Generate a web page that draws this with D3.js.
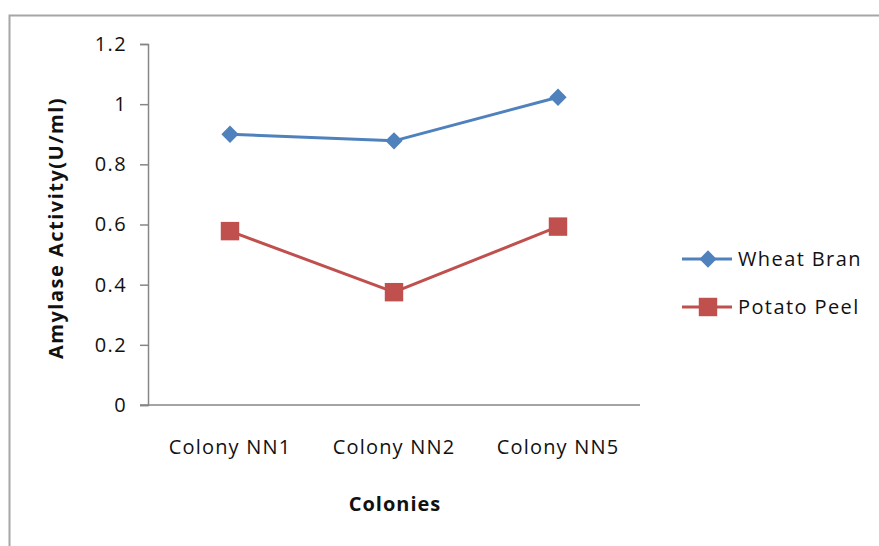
<!DOCTYPE html>
<html>
<head>
<meta charset="utf-8">
<script src="https://cdn.jsdelivr.net/npm/d3@7/dist/d3.min.js"></script>
<style>
  body { margin: 0; background: #fff; }
  svg { display: block; font-family: "Open Sans", Lato, sans-serif; }
</style>
</head>
<body>
<svg id="chart" width="879" height="546"></svg>
<script>
// Amylase activity per colony for two substrates
const colonies = ["Colony NN1", "Colony NN2", "Colony NN5"];
const wheatBran = [0.90, 0.878, 1.023];
const potatoPeel = [0.578, 0.375, 0.593];
const yTicks = [0, 0.2, 0.4, 0.6, 0.8, 1, 1.2];
const seriesNames = ["Wheat Bran", "Potato Peel"];

const series = [
  { name: seriesNames[0], values: wheatBran, color: "#4F81BD", marker: "diamond" },
  { name: seriesNames[1], values: potatoPeel, color: "#C0504D", marker: "square" }
];

const svg = d3.select("#chart");
const W = 879, H = 546;
const FONT = "'Open Sans', Lato, sans-serif";
const TEXT = "#111";

// outer frame (right and bottom sides fall outside the view)
svg.append("rect")
  .attr("x", 9.5).attr("y", 15.5)
  .attr("width", W + 20).attr("height", H + 20)
  .attr("fill", "#fff").attr("stroke", "#a6a6a6").attr("stroke-width", 2);

const plot = { left: 148, right: 640, top: 44, bottom: 405 };

const x = d3.scaleBand().domain(colonies).range([plot.left, plot.right]);
const y = d3.scaleLinear().domain([0, 1.2]).range([plot.bottom, plot.top]);

const axisColor = "#868686";

// y axis
const yAxis = svg.append("g")
  .attr("transform", `translate(${plot.left},0)`)
  .call(d3.axisLeft(y).tickValues(yTicks).tickSize(8).tickPadding(13)
    .tickFormat(d => d3.format("~g")(d)));
yAxis.select(".domain").attr("stroke", axisColor).attr("stroke-width", 1.5);
yAxis.selectAll(".tick line").attr("stroke", axisColor).attr("stroke-width", 1.5);
yAxis.selectAll(".tick text").attr("fill", TEXT).attr("font-size", 20)
  .attr("letter-spacing", "1.4px").attr("font-family", FONT);

// x axis
const xAxis = svg.append("g")
  .attr("transform", `translate(0,${plot.bottom})`)
  .call(d3.axisBottom(x).tickSize(0).tickPadding(35));
xAxis.select(".domain").attr("stroke", axisColor).attr("stroke-width", 1.5)
  .attr("d", `M${plot.left - 8},0H${plot.right}`);
xAxis.selectAll(".tick text").attr("fill", TEXT).attr("font-size", 20)
  .attr("letter-spacing", "1.2px").attr("font-family", FONT);

// axis titles
svg.append("text")
  .attr("transform", `translate(63,228) rotate(-90)`)
  .attr("text-anchor", "middle")
  .attr("font-size", 20).attr("font-weight", "bold").attr("fill", TEXT)
  .attr("letter-spacing", "1.5px")
  .text("Amylase Activity(U/ml)");

svg.append("text")
  .attr("x", 395).attr("y", 511)
  .attr("text-anchor", "middle")
  .attr("font-size", 20).attr("font-weight", "bold").attr("fill", TEXT)
  .attr("letter-spacing", "1px")
  .text("Colonies");

const cx = d => x(d) + x.bandwidth() / 2;

const diamond = d3.symbol().type(d3.symbolDiamond2).size(190);
const square = d3.symbol().type(d3.symbolSquare).size(340);

function markerPath(kind) { return kind === "diamond" ? diamond() : square(); }

const line = d3.line().x((d, i) => cx(colonies[i])).y(d => y(d));

series.forEach(s => {
  svg.append("path")
    .attr("d", line(s.values))
    .attr("fill", "none").attr("stroke", s.color).attr("stroke-width", 3)
    .attr("stroke-linejoin", "round");
  svg.selectAll(null).data(s.values).enter().append("path")
    .attr("d", markerPath(s.marker))
    .attr("transform", (d, i) => `translate(${cx(colonies[i])},${y(d)})`)
    .attr("fill", s.color);
});

// legend
const legendY = [259, 307];
series.forEach((s, i) => {
  const g = svg.append("g").attr("transform", `translate(682,${legendY[i]})`);
  g.append("line").attr("x1", 0).attr("x2", 50).attr("y1", 0).attr("y2", 0)
    .attr("stroke", s.color).attr("stroke-width", 3);
  g.append("path").attr("d", markerPath(s.marker))
    .attr("transform", "translate(26,0)").attr("fill", s.color);
  g.append("text").attr("x", 56).attr("y", 0).attr("dy", "0.35em")
    .attr("font-size", 20).attr("fill", TEXT).attr("font-family", FONT)
    .attr("letter-spacing", "1.4px")
    .text(s.name);
});
</script>
</body>
</html>
